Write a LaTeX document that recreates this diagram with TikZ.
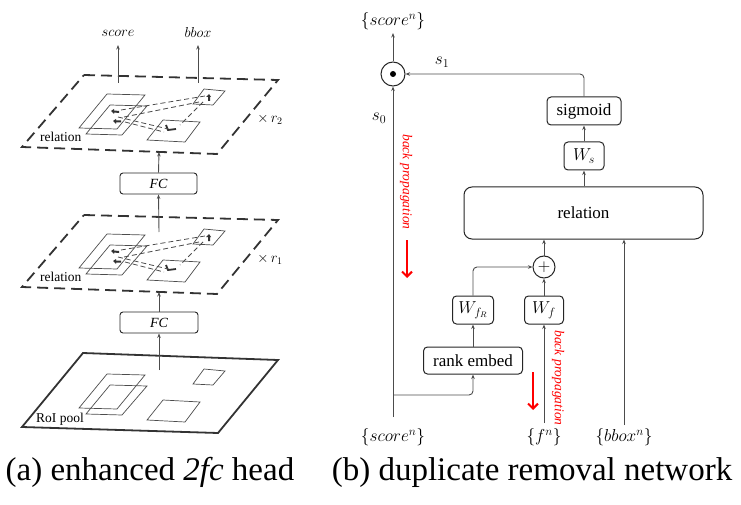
\documentclass[tikz,border=0pt]{standalone}
\usepackage{fontspec}
\setmainfont{Liberation Serif}
\usetikzlibrary{arrows.meta,calc}
\begin{document}
\begin{tikzpicture}[x=1pt,y=-1pt,
  conn/.style={draw=black!70, line width=0.9pt, -{Stealth[length=4.5pt,width=3.5pt]}},
  blk/.style={draw=black!85, line width=1pt, rounded corners=4pt, fill=white, inner sep=0pt, font=\fontsize{17}{20}\selectfont},
  fcbox/.style={draw=black!85, line width=0.9pt, rounded corners=3pt, fill=white, inner sep=0pt, font=\fontsize{14}{16}\selectfont\itshape, minimum height=21pt},
  plane/.style={draw=black!80, line width=1.8pt, dash pattern=on 11pt off 6pt},
  rbox/.style={draw=black!70, line width=0.7pt},
  rel/.style={draw=black!70, line width=0.8pt, dash pattern=on 5pt off 3pt},
  lab/.style={font=\fontsize{13.5}{16}\selectfont, inner sep=0pt},
  mlab/.style={font=\fontsize{17}{20}\selectfont, inner sep=0pt},
  bp/.style={text=red, font=\fontsize{13.5}{16}\selectfont\itshape, rotate=-90, inner sep=0pt},
  redarr/.style={draw=red, line width=2pt, -{Straight Barb[length=5pt,width=10pt]}},
  captext/.style={font=\fontsize{33}{38}\selectfont, anchor=base, inner sep=0pt}
]
\useasboundingbox (0,0) rectangle (741,505);

% ---------------- (a) enhanced 2fc head ----------------
\foreach \dy in {0,140}{
\begin{scope}[shift={(0,\dy)}]
  \draw[plane] (84,75) -- (278,80) -- (217,154) -- (22,147) -- cycle;
  \draw[rbox] (107,94) -- (145,95) -- (117,129) -- (79,128) -- cycle;
  \draw[rbox] (110,105) -- (147,106) -- (122,135) -- (86,134) -- cycle;
  \draw[rbox] (163,120) -- (200,122) -- (185,142) -- (147,140) -- cycle;
  \draw[rbox] (204,89) -- (225,91) -- (213,105) -- (193,104) -- cycle;
  % icons
  \fill[black!80] (111,111) -- (114,109) -- (114,110.5) -- (119,111) -- (119,113) -- (114,112.5) -- (114,114) -- cycle;
  \fill[black!80] (113,121) -- (116,119) -- (116,120.5) -- (121,120.5) -- (121,122.5) -- (116,122.5) -- (116,124) -- cycle;
  \draw[black!80, line width=1.8pt] (166,125) -- (168,130) -- (176,129);
  \fill[black!80] (206,97) -- (209,94) -- (211,97) -- (210,97) -- (210,101) -- (208,101) -- (208,97) -- cycle;
  % relation dashed lines
  \draw[rel] (121,110) -- (205,96);
  \draw[rel] (124,117) -- (199,102);
  \draw[rel] (118,117) -- (168,129);
  \draw[rel] (125,122) -- (164,132);
  \draw[rel] (203,102) -- (180,125);
\end{scope}}
\node[lab, anchor=west] (relA) at (40,137) {relation};
\node[lab, anchor=west] (relB) at (40,277) {relation};
\node[lab, font=\fontsize{14.5}{17}\selectfont] (r2) at (270,119) {$\times\,r_2$};
\node[lab, font=\fontsize{14.5}{17}\selectfont] (r1) at (270,259) {$\times\,r_1$};

% RoI pool layer
\draw[draw=black!80, line width=1.8pt] (83,353) -- (278,360) -- (218,433) -- (22,427) -- cycle;
\draw[rbox] (107,374) -- (145,375) -- (117,409) -- (79,408) -- cycle;
\draw[rbox] (110,385) -- (147,386) -- (122,415) -- (86,414) -- cycle;
\draw[rbox] (163,400) -- (200,402) -- (185,422) -- (147,420) -- cycle;
\draw[rbox] (204,369) -- (225,371) -- (213,385) -- (193,384) -- cycle;
\node[lab, anchor=west] (roi) at (36,419) {RoI pool};

% FC boxes
\node[fcbox, minimum width=78pt] (fc1) at (159,322.5) {FC};
\node[fcbox, minimum width=77pt] (fc2) at (158.5,183.5) {FC};

\coordinate (roiout) at (159,370);
\coordinate (midin) at (159,292);
\coordinate (midout) at (159,232);
\coordinate (topin) at (159,152);
\coordinate (scout) at (118,83);
\coordinate (bbout) at (198,83);
\node[lab, font=\fontsize{14}{16}\selectfont] (scoreA) at (118,33) {$score$};
\node[lab, font=\fontsize{14}{16}\selectfont] (bboxA) at (198,33) {$bbox$};
\coordinate (scend) at (118,45);
\coordinate (bbend) at (198,45);

\draw[conn] (roiout) -- (fc1.south);
\draw[conn] (fc1.north) -- (midin);
\draw[conn] (midout) -- (fc2.south);
\draw[conn] (fc2.north) -- (topin);
\draw[conn] (scout) -- (scend);
\draw[conn] (bbout) -- (bbend);

% ---------------- (b) duplicate removal network ----------------
\node[blk, minimum width=74pt, minimum height=28pt] (sig) at (584,111) {sigmoid};
\node[blk, minimum width=40pt, minimum height=28pt] (ws) at (584,156) {$W_s$};
\node[blk, rounded corners=8pt, minimum width=239pt, minimum height=52pt] (relation) at (583.5,213) {relation};
\node[blk, minimum width=41pt, minimum height=28pt] (wfr) at (473,310) {$W_{f_R}$};
\node[blk, minimum width=39pt, minimum height=28pt] (wf) at (544,310) {$W_f$};
\node[blk, minimum width=99pt, minimum height=27pt] (rank) at (473,360.5) {rank embed};
\node[draw=black!85, line width=1pt, circle, minimum size=22pt, inner sep=0pt, font=\fontsize{17}{20}\selectfont] (plus) at (544,267) {$+$};
\node[draw=black!85, line width=1pt, circle, minimum size=24pt, inner sep=0pt] (odot) at (393,74) {};
\fill (odot.center) circle (3pt);

\node[mlab] (scoreTop) at (393,21) {$\{score^n\}$};
\node[mlab] (scoreBot) at (393,437) {$\{score^n\}$};
\node[mlab] (fn) at (544,437) {$\{f^n\}$};
\node[mlab] (bboxn) at (624,437) {$\{bbox^n\}$};
\node[mlab] (s1) at (442,62) {$s_1$};
\node[mlab] (s0) at (379,118) {$s_0$};

\coordinate (sbot) at (393,417);
\coordinate (branch) at (393,395);
\coordinate (fbot) at (544,423);
\coordinate (bbbot) at (624,425);
\coordinate (sctop) at (393,33);

\draw[conn] (odot.north) -- (sctop);
\draw[conn] (sbot) -- (odot.south);
\draw[conn, rounded corners=4pt] (sig.north) |- (odot.east);
\draw[conn] (ws.north) -- (sig.south);
\draw[conn] (relation.north -| ws.south) -- (ws.south);
\draw[conn] (plus.north) -- (plus.north |- relation.south);
\draw[conn] (bbbot) -- (bbbot |- relation.south);
\draw[conn] (wf.north) -- (plus.south);
\draw[conn, rounded corners=4pt] (wfr.north) |- (plus.west);
\draw[conn] (rank.north) -- (wfr.south);
\draw[conn, rounded corners=4pt] (branch) -| (rank.south);
\draw[conn] (fbot) -- (wf.south);

% back propagation
\node[bp] (bp1) at (406,182) {back propagation};
\coordinate (r1a) at (407,240);
\coordinate (r1b) at (407,278);
\draw[redarr] (r1a) -- (r1b);
\node[bp] (bp2) at (558,378) {back propagation};
\coordinate (r2a) at (533,372);
\coordinate (r2b) at (533,410);
\draw[redarr] (r2a) -- (r2b);

% captions
\node[captext] (capa) at (150,480) {(a) enhanced \textit{2fc} head};
\node[captext] (capb) at (532,480) {(b) duplicate removal network};
\end{tikzpicture}
\end{document}
